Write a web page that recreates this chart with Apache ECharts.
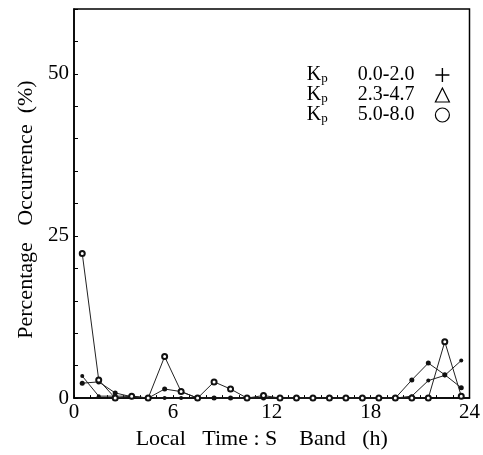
<!DOCTYPE html>
<html>
<head>
<meta charset="utf-8">
<script src="https://cdn.jsdelivr.net/npm/echarts@6/dist/echarts.min.js"></script>
<style>
  html, body { margin: 0; padding: 0; background: #fff; }
  #chart { width: 483px; height: 455px; }
</style>
</head>
<body>
<div id="chart"></div>
<script>
// local time bins (h), centre of each hour
var hours = [0.5, 1.5, 2.5, 3.5, 4.5, 5.5, 6.5, 7.5, 8.5, 9.5, 10.5, 11.5,
             12.5, 13.5, 14.5, 15.5, 16.5, 17.5, 18.5, 19.5, 20.5, 21.5, 22.5, 23.5];
// percentage occurrence per Kp range
var kpLow  = [3.4, 0.3, 0.3, 0.3, 0, 0, 0, 0, 0, 0, 0, 0,
              0, 0, 0, 0, 0, 0, 0, 0, 0.3, 2.7, 3.5, 5.8];
var kpMid  = [2.3, 2.5, 0.8, 0.2, 0, 1.4, 1.0, 0, 0, 0, 0, 0,
              0, 0, 0, 0, 0, 0, 0, 0, 2.8, 5.4, 3.6, 1.6];
var kpHigh = [22.3, 2.8, 0, 0.3, 0, 6.4, 1.0, 0, 2.5, 1.4, 0, 0.4,
              0, 0, 0, 0, 0, 0, 0, 0, 0, 0, 8.7, 0.3];
var seriesNames = ['Kp 0.0-2.0', 'Kp 2.3-4.7', 'Kp 5.0-8.0'];
var xLabels = [0, 6, 12, 18, 24];
var yLabels = [0, 25, 50];

var serif = '"Liberation Serif", "DejaVu Serif", serif';

function pairs(vals) {
  return hours.map(function (h, i) { return [h, vals[i]]; });
}

var plusIcon = 'path://M4.5,0 L5.5,0 L5.5,4.5 L10,4.5 L10,5.5 L5.5,5.5 L5.5,10 L4.5,10 L4.5,5.5 L0,5.5 L0,4.5 L4.5,4.5 Z';

var chart = echarts.init(document.getElementById('chart'));
chart.setOption({
  animation: false,
  backgroundColor: '#fff',
  grid: {
    left: 74, right: 13, top: 9, bottom: 55,
    show: true, borderColor: '#000', borderWidth: 1.5
  },
  legend: {
    orient: 'vertical',
    right: 28,
    top: 60,
    align: 'right',
    itemGap: 0,
    itemWidth: 14,
    itemHeight: 14,
    data: [
      { name: seriesNames[0], icon: plusIcon, itemStyle: { color: '#000', borderWidth: 0 } },
      { name: seriesNames[1], icon: 'triangle', itemStyle: { color: 'rgba(0,0,0,0)', borderColor: '#000', borderWidth: 1.2 } },
      { name: seriesNames[2], icon: 'circle', itemStyle: { color: 'rgba(0,0,0,0)', borderColor: '#000', borderWidth: 1.2 } }
    ],
    formatter: function (name) {
      var parts = name.split(' ');
      return '{k|K}{p|p}{r|' + parts[1] + '}';
    },
    textStyle: {
      rich: {
        k: { fontFamily: serif, fontSize: 20, color: '#000' },
        p: { fontFamily: serif, fontSize: 13, color: '#000', verticalAlign: 'bottom', padding: [6, 0, 0, 0] },
        r: { fontFamily: serif, fontSize: 20, color: '#000', padding: [0, 16, 0, 30] }
      }
    }
  },
  xAxis: {
    type: 'value',
    min: 0, max: 24, interval: 1,
    name: 'Local   Time : S    Band   (h)',
    nameLocation: 'middle',
    nameGap: 29,
    nameTextStyle: { fontFamily: serif, fontSize: 22, color: '#000', padding: [0, 20, 0, 0] },
    axisLine: { lineStyle: { color: '#000', width: 1.5 } },
    axisTick: { inside: true, length: 3, lineStyle: { color: '#000' } },
    axisLabel: {
      fontFamily: serif, fontSize: 21, color: '#000', margin: 4,
      formatter: function (v) { return xLabels.indexOf(v) >= 0 ? String(v) : ''; }
    },
    splitLine: { show: false }
  },
  yAxis: {
    type: 'value',
    min: 0, max: 60, interval: 5,
    name: 'Percentage   Occurrence  (%)',
    nameLocation: 'middle',
    nameGap: 36,
    nameTextStyle: { fontFamily: serif, fontSize: 22, color: '#000', padding: [0, 12, 0, 0] },
    axisLine: { show: true, lineStyle: { color: '#000', width: 1.5 } },
    axisTick: { inside: true, length: 4, lineStyle: { color: '#000' } },
    axisLabel: {
      fontFamily: serif, fontSize: 21, color: '#000', margin: 5,
      formatter: function (v) { return yLabels.indexOf(v) >= 0 ? String(v) : ''; }
    },
    splitLine: { show: false }
  },
  series: [
    {
      name: seriesNames[0], type: 'line', data: pairs(kpLow),
      symbol: 'circle', symbolSize: 4,
      itemStyle: { color: '#111' },
      lineStyle: { color: '#222', width: 1 }
    },
    {
      name: seriesNames[1], type: 'line', data: pairs(kpMid),
      symbol: 'circle', symbolSize: 5,
      itemStyle: { color: '#111' },
      lineStyle: { color: '#222', width: 1 }
    },
    {
      name: seriesNames[2], type: 'line', data: pairs(kpHigh),
      symbol: 'emptyCircle', symbolSize: 5,
      itemStyle: { color: '#111', borderWidth: 1.3 },
      lineStyle: { color: '#222', width: 1 }
    }
  ]
});
</script>
</body>
</html>
